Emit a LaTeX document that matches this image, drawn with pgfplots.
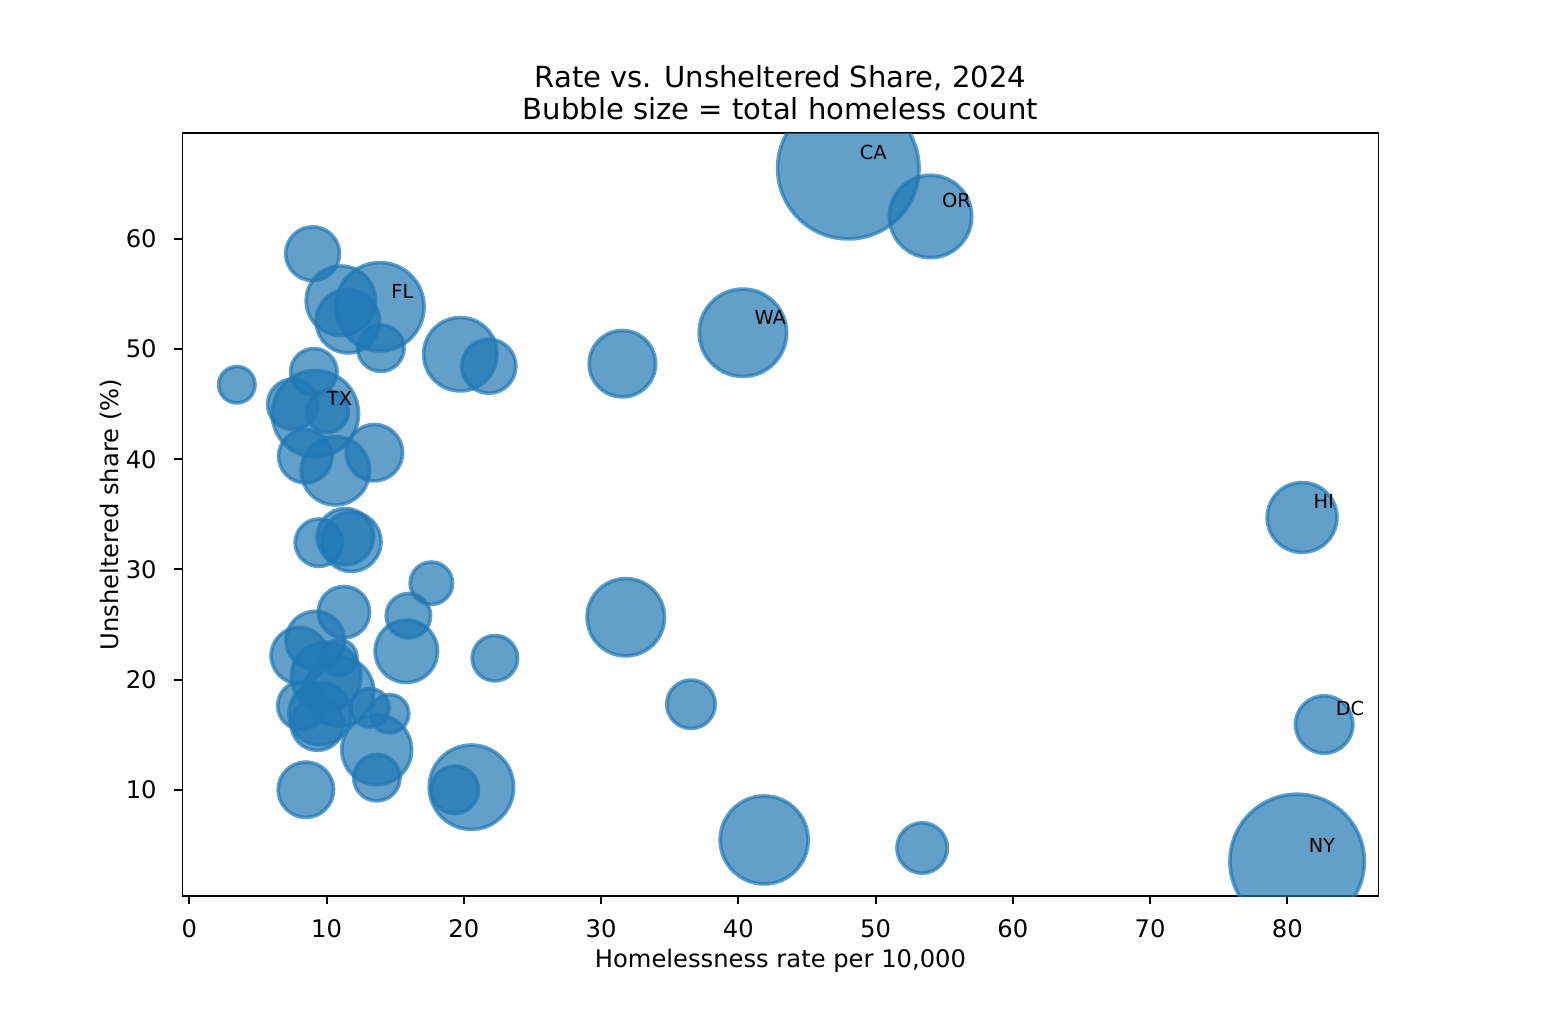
\documentclass[border=0pt]{standalone}
\usepackage{fontspec}
\setmainfont{DejaVu Sans}
\usepackage{pgfplots}
\usepackage{pgfplotstable}
\pgfplotsset{compat=1.18}
\definecolor{tabblue}{RGB}{31,119,180}

% x = rate per 10,000, y = unsheltered share (%), r = bubble radius (px in the 1551x1022 image)
\pgfplotstableread{
x y r
48.01 66.43 72.5
54.00 62.05 43.0
13.88 53.85 46.0
40.33 51.49 45.5
81.07 34.72 36.7
82.68 15.92 30.5
80.71 3.49 69.0
9.18 44.14 45.0
8.98 58.67 28.7
11.04 54.40 36.5
11.55 52.54 33.5
13.95 50.09 25.0
19.74 49.54 38.5
21.82 48.45 28.8
3.46 46.77 20.0
9.07 47.95 25.0
7.54 45.00 27.0
10.06 44.34 22.7
8.45 40.28 28.5
10.64 38.96 36.0
13.48 40.60 30.0
9.44 32.43 25.5
11.37 32.97 30.0
11.80 32.52 31.5
17.63 28.75 23.0
11.26 26.12 27.5
15.96 25.80 24.0
15.81 22.57 33.0
22.26 21.94 24.5
8.01 22.18 30.0
9.17 23.55 31.0
10.91 22.00 19.7
9.96 20.26 36.5
10.91 18.92 36.5
8.20 17.64 26.0
9.53 16.90 33.0
9.33 15.95 28.0
13.15 17.44 21.0
14.59 16.90 21.0
13.65 13.63 36.7
13.66 11.09 25.0
8.49 10.00 29.5
20.55 10.23 44.0
19.34 10.00 25.5
31.55 48.68 35.0
31.80 25.66 40.5
36.55 17.76 26.0
41.88 5.44 45.8
53.39 4.71 27.0
}\bubbles

\pgfplotstableread{
x y lab
48.01 66.43 CA
54.00 62.05 OR
13.88 53.85 FL
40.33 51.49 WA
81.07 34.72 HI
82.68 15.92 DC
80.71 3.49 NY
9.18 44.14 TX
}\labs

\begin{document}
\begin{tikzpicture}
\useasboundingbox (-84.77pt,-58.53pt) rectangle (635.68pt,416.20pt);
\begin{axis}[
  name=ax,
  at={(0,0)}, anchor=south west,
  scale only axis, width=555.55pt, height=354.28pt,
  xmin=-0.5, xmax=86.64, ymin=0.35, ymax=69.6,
  xtick={0,10,...,80}, ytick={10,20,...,60},
  tick pos=left, tick align=outside, major tick length=3.9pt,
  every tick/.style={black, line width=0.9pt},
  axis line style={line width=0.9pt},
  /pgf/number format/assume math mode=true,
  tick label style={font=\fontsize{11.25}{13.5}\selectfont, inner sep=0pt},
  xticklabel style={anchor=base, yshift=-15.6pt},
  yticklabel style={anchor=east, xshift=-7.9pt},
  label style={font=\fontsize{11.25}{13.5}\selectfont, inner sep=0pt},
  xlabel={Homelessness rate per 10,000},
  xlabel style={at={(axis description cs:0.5,-0.0943)}, anchor=base},
  ylabel={Unsheltered share (\%)},
  ylabel style={at={(axis description cs:-0.0531,0.5)}, anchor=base},
  clip mode=individual,
  clip marker paths=true,
]
\addplot[
  scatter, only marks, mark=*,
  scatter/use mapped color={draw=tabblue, fill=tabblue, fill opacity=0.7, draw opacity=0.7},
  mark options={line width=1.69pt},
  visualization depends on={\thisrow{r} \as \rr},
  scatter/@pre marker code/.append style={/tikz/mark size=\rr*0.4645pt-0.84pt},
] table[x=x, y=y] {\bubbles};
\addplot[
  only marks, mark=*, mark size=0pt, mark options={draw=none, fill=none},
  nodes near coords, point meta=explicit symbolic,
  every node near coord/.append style={anchor=base west, xshift=5.2pt, yshift=4pt, inner sep=0pt, font=\fontsize{9}{10.8}\selectfont, text=black},
] table[x=x, y=y, meta=lab] {\labs};
\end{axis}
\node[anchor=base, inner sep=0pt, font=\fontsize{13.5}{16.2}\selectfont] at ([yshift=6.6pt]ax.north) {Bubble size = total homeless count};
\node[anchor=base, inner sep=0pt, font=\fontsize{13.5}{16.2}\selectfont] at ([yshift=21.4pt]ax.north) {Rate vs. Unsheltered Share, 2024};
\end{tikzpicture}
\end{document}
